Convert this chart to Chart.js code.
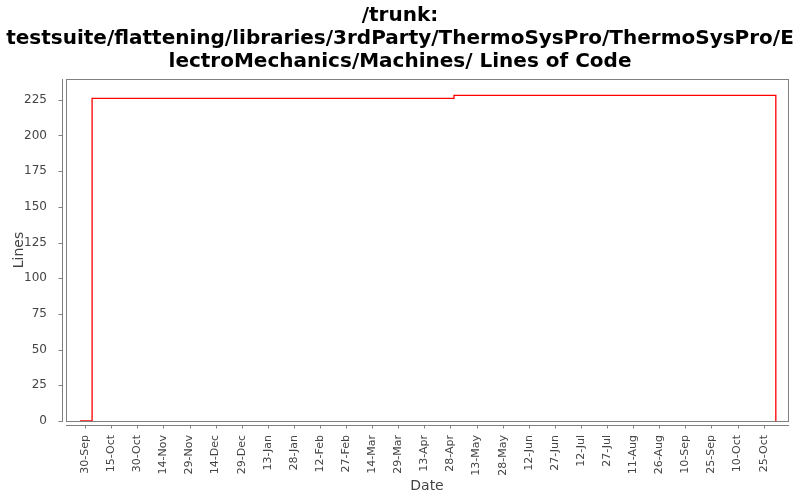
<!DOCTYPE html>
<html>
<head>
<meta charset="utf-8">
<script src="https://cdn.jsdelivr.net/npm/chart.js@4"></script>
<style>
  html, body { margin: 0; padding: 0; background: #fff; }
  #wrap { width: 800px; height: 500px; }
</style>
</head>
<body>
<div id="wrap"><canvas id="locChart" width="800" height="500"></canvas></div>
<script>
// chart title, one string per line
const titleLines = [
    '/trunk:',
    'testsuite/flattening/libraries/3rdParty/ThermoSysPro/ThermoSysPro/E',
    'lectroMechanics/Machines/ Lines of Code'
];

// step series: date when the count changed, and the new count
const changeDates = ['2009-09-27', '2009-10-04', '2010-04-30', '2010-11-01'];
const lineCounts = [0, 226, 228, 0];

// date axis ticks
const tickDates = [
    '2009-09-30', '2009-10-15', '2009-10-30', '2009-11-14', '2009-11-29',
    '2009-12-14', '2009-12-29', '2010-01-13', '2010-01-28', '2010-02-12',
    '2010-02-27', '2010-03-14', '2010-03-29', '2010-04-13', '2010-04-28',
    '2010-05-13', '2010-05-28', '2010-06-12', '2010-06-27', '2010-07-12',
    '2010-07-27', '2010-08-11', '2010-08-26', '2010-09-10', '2010-09-25',
    '2010-10-10', '2010-10-25'
];
const monthNames = ['Jan', 'Feb', 'Mar', 'Apr', 'May', 'Jun', 'Jul', 'Aug', 'Sep', 'Oct', 'Nov', 'Dec'];

// visible range of both axes
const dateRange = ['2009-09-19', '2010-11-08'];
const yMax = 239.5;
const yStep = 25;

const baseDate = Date.UTC(2009, 8, 30);

function toDay(iso) {
    const p = iso.split('-').map(Number);
    return (Date.UTC(p[0], p[1] - 1, p[2]) - baseDate) / 86400000;
}

function dayLabel(day) {
    const d = new Date(baseDate + day * 86400000);
    return d.getUTCDate() + '-' + monthNames[d.getUTCMonth()];
}

const points = changeDates.map((d, i) => ({ x: toDay(d), y: lineCounts[i] }));
const tickDays = tickDates.map(toDay);

const axisGray = '#808080';

// JFreeChart style: plot outline plus axis lines set a few px away from it
const frameAndAxes = {
    id: 'frameAndAxes',
    afterDraw(chart) {
        const { ctx, chartArea: a, scales } = chart;
        ctx.save();
        ctx.strokeStyle = axisGray;
        ctx.lineWidth = 1;
        ctx.strokeRect(Math.round(a.left) + 0.5, Math.round(a.top) + 0.5,
            Math.round(a.right - a.left), Math.round(a.bottom - a.top));

        const yx = Math.round(a.left) - 3.5;
        ctx.beginPath();
        ctx.moveTo(yx, a.top);
        ctx.lineTo(yx, a.bottom + 1);
        scales.y.ticks.forEach(t => {
            const py = Math.round(scales.y.getPixelForValue(t.value)) + 0.5;
            ctx.moveTo(yx - 4, py);
            ctx.lineTo(yx, py);
        });
        const xy = Math.round(a.bottom) + 4.5;
        ctx.moveTo(a.left, xy);
        ctx.lineTo(a.right + 1, xy);
        scales.x.ticks.forEach(t => {
            const px = Math.round(scales.x.getPixelForValue(t.value)) + 0.5;
            ctx.moveTo(px, xy);
            ctx.lineTo(px, xy + 3);
        });
        ctx.stroke();
        ctx.restore();
    }
};

const ctx = document.getElementById('locChart').getContext('2d');

new Chart(ctx, {
    type: 'line',
    data: {
        datasets: [{
            label: 'Lines',
            data: points,
            stepped: 'before',
            borderColor: '#ff0000',
            borderWidth: 1.3,
            pointRadius: 0,
            fill: false,
        }]
    },
    options: {
        responsive: false,
        animation: false,
        devicePixelRatio: 1,
        layout: {
            padding: 0
        },
        scales: {
            x: {
                type: 'linear',
                min: toDay(dateRange[0]),
                max: toDay(dateRange[1]),
                afterBuildTicks: scale => {
                    scale.ticks = tickDays.map(v => ({ value: v }));
                },
                afterFit: scale => {
                    scale.height = 79;
                },
                grid: { display: false },
                border: { display: false },
                ticks: {
                    autoSkip: false,
                    minRotation: 90,
                    maxRotation: 90,
                    padding: 6,
                    color: '#444',
                    font: { family: 'DejaVu Sans', size: 11 },
                    callback: value => dayLabel(value)
                },
                title: {
                    display: true,
                    text: 'Date',
                    color: '#444',
                    font: { family: 'DejaVu Sans', size: 14 },
                    padding: { top: 0, bottom: 5 }
                }
            },
            y: {
                min: 0,
                max: yMax,
                afterFit: scale => {
                    scale.width = 66;
                },
                grid: { display: false },
                border: { display: false },
                ticks: {
                    stepSize: yStep,
                    includeBounds: false,
                    padding: 11,
                    color: '#444',
                    font: { family: 'DejaVu Sans', size: 12 }
                },
                title: {
                    display: true,
                    text: 'Lines',
                    color: '#444',
                    font: { family: 'DejaVu Sans', size: 14 },
                    padding: { top: 11, bottom: 0 }
                }
            },
            // empty strip on the right so the title stays centred on the canvas
            rightGap: {
                position: 'right',
                axis: 'y',
                type: 'linear',
                display: true,
                afterFit: scale => {
                    scale.width = 12;
                },
                grid: { display: false },
                border: { display: false },
                ticks: { display: false }
            }
        },
        plugins: {
            legend: { display: false },
            tooltip: { enabled: false },
            title: {
                display: true,
                text: titleLines,
                color: '#000',
                font: { family: 'DejaVu Sans', size: 20, weight: 'bold', lineHeight: 1.15 },
                padding: { top: 4, bottom: 6 }
            }
        }
    },
    plugins: [frameAndAxes]
});
</script>
</body>
</html>
